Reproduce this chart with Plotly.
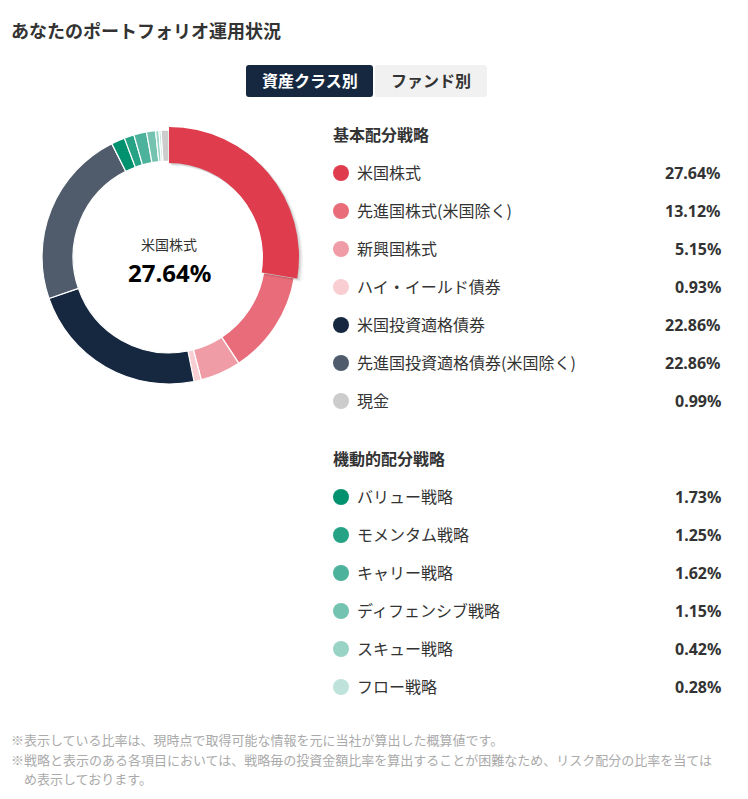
import plotly.graph_objects as go

# legend groups
basic_labels = ["米国株式", "先進国株式(米国除く)", "新興国株式", "ハイ・イールド債券",
                "米国投資適格債券", "先進国投資適格債券(米国除く)", "現金"]
basic_values = [27.64, 13.12, 5.15, 0.93, 22.86, 22.86, 0.99]
basic_colors = ["#DF3D4E", "#E86C79", "#F09CA6", "#F8CED3", "#152840", "#505C6C", "#CCCCCC"]

tactical_labels = ["バリュー戦略", "モメンタム戦略", "キャリー戦略", "ディフェンシブ戦略", "スキュー戦略", "フロー戦略"]
tactical_values = [1.73, 1.25, 1.62, 1.15, 0.42, 0.28]
tactical_colors = ["#00916E", "#26A285", "#4CB29B", "#73C3B0", "#99D3C5", "#BFE3DB"]

# ring order: cash sits last, after the green strategies
ring_labels = basic_labels[:6] + tactical_labels + basic_labels[6:]
ring_values = basic_values[:6] + tactical_values + basic_values[6:]
ring_colors = basic_colors[:6] + tactical_colors + basic_colors[6:]

W, H = 748, 799
FONT = "Noto Sans, Noto Sans CJK JP, sans-serif"
CJK = "Noto Sans CJK JP, sans-serif"


def ring(cx, cy, r, hole, colors, line_w):
    return go.Pie(
        labels=ring_labels, values=ring_values, sort=False, direction="clockwise",
        rotation=0, hole=hole, textinfo="none", showlegend=False, hoverinfo="skip",
        marker=dict(colors=colors, line=dict(color="white", width=line_w)),
        domain=dict(x=[(cx - r) / W, (cx + r) / W], y=[1 - (cy + r) / H, 1 - (cy - r) / H]),
    )


clear = "rgba(0,0,0,0)"
cx, cy = 169, 257

fig = go.Figure()
fig.add_trace(ring(cx, cy, 127, 0.755, ring_colors, 1.2))

# selected slice is drawn bigger, with a soft shadow under it
for off, r, alpha in [(3, 131, 0.05), (2, 130.5, 0.07), (1, 130, 0.09)]:
    shadow = ["rgba(0,0,0,%s)" % alpha] + [clear] * (len(ring_values) - 1)
    fig.add_trace(ring(cx + off, cy + off, r, 94 / r, shadow, 0))
top = [ring_colors[0]] + [clear] * (len(ring_values) - 1)
fig.add_trace(ring(cx, cy, 130, 94 / 130, top, 0))

# legend dots on a pixel-sized hidden axis
dot_y1 = [173 + 38 * i for i in range(len(basic_labels))]
dot_y2 = [497 + 38 * i for i in range(len(tactical_labels))]
fig.add_trace(go.Scatter(
    x=[341] * (len(dot_y1) + len(dot_y2)), y=dot_y1 + dot_y2, mode="markers",
    marker=dict(size=16, color=basic_colors + tactical_colors, line=dict(width=0)),
    showlegend=False, hoverinfo="skip",
))


def text(x, y, s, size, color="#333333", anchor="left", bold=False, font=FONT):
    # annotations carry about 2px of padding, taken off here
    pad = {"left": -2, "right": 2, "center": 0}[anchor]
    fig.add_annotation(
        x=x + pad, y=y - 1, xref="x", yref="y", text="<b>%s</b>" % s if bold else s, showarrow=False,
        xanchor=anchor, yanchor="middle", align=anchor,
        font=dict(family=font, size=size, color=color),
    )


text(11, 31, "あなたのポートフォリオ運用状況", 18, bold=True, font=CJK)

# tab buttons
fig.add_shape(type="path", xref="x", yref="y", line_width=0, fillcolor="#152840",
              path="M249,65 L370,65 Q373,65 373,68 L373,94 Q373,97 370,97 L249,97 Q246,97 246,94 L246,68 Q246,65 249,65 Z")
fig.add_shape(type="path", xref="x", yref="y", line_width=0, fillcolor="#F1F1F1",
              path="M378,65 L484,65 Q487,65 487,68 L487,94 Q487,97 484,97 L378,97 Q375,97 375,94 L375,68 Q375,65 378,65 Z")
text(309.5, 81, "資産クラス別", 16, color="white", anchor="center", bold=True, font=CJK)
text(431, 81, "ファンド別", 16, anchor="center", bold=True, font=CJK)

# centre of the ring
text(cx, 245, basic_labels[0], 14, anchor="center", font=CJK)
text(cx, 273, "%.2f%%" % basic_values[0], 24, color="#000000", anchor="center", bold=True)

text(333, 135, "基本配分戦略", 16, bold=True, font=CJK)
text(333, 459, "機動的配分戦略", 16, bold=True, font=CJK)

for y, lab, val in zip(dot_y1 + dot_y2, basic_labels + tactical_labels, basic_values + tactical_values):
    text(357, y, lab, 16, font=CJK)
    text(720.5, y + 0.5, "%.2f%%" % val, 16, anchor="right", bold=True)

# footnotes
text(11, 740, "※表示している比率は、現時点で取得可能な情報を元に当社が算出した概算値です。", 13, color="#AAAAAA", font=CJK)
text(11, 760, "※戦略と表示のある各項目においては、戦略毎の投資金額比率を算出することが困難なため、リスク配分の比率を当ては", 13, color="#AAAAAA", font=CJK)
text(24, 779, "め表示しております。", 13, color="#AAAAAA", font=CJK)

fig.update_xaxes(range=[0, W], visible=False, fixedrange=True)
fig.update_yaxes(range=[H, 0], visible=False, fixedrange=True)
fig.update_layout(width=W, height=H, margin=dict(l=0, r=0, t=0, b=0),
                  paper_bgcolor="white", plot_bgcolor="rgba(0,0,0,0)", font=dict(family=FONT))

fig.write_html("out.html", post_script="document.body.style.margin='0';", config={"displayModeBar": False})
